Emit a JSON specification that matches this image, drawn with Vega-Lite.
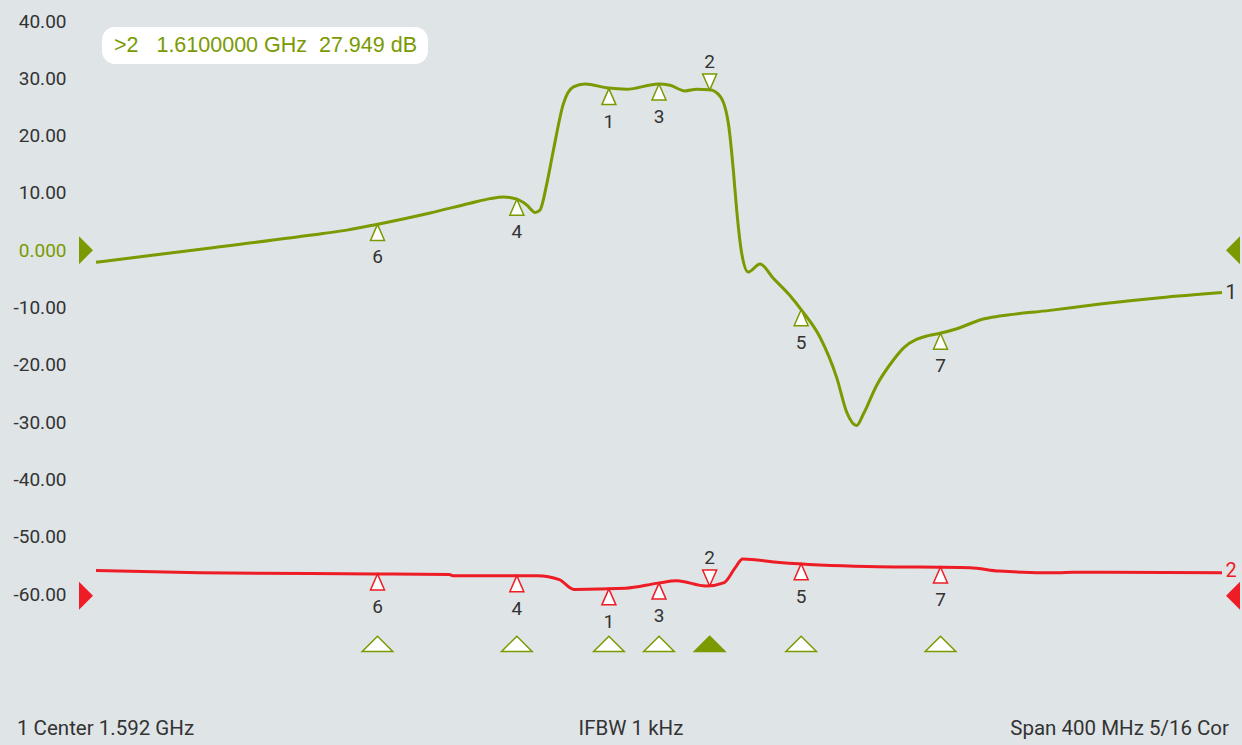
{
  "$schema": "https://vega.github.io/schema/vega-lite/v6.json",
  "width": 1126,
  "height": 573,
  "autosize": {"type": "none"},
  "padding": {"left": 96, "top": 21, "right": 20, "bottom": 151},
  "background": "#dfe4e7",
  "config": {
    "view": {"stroke": null},
    "font": "Roboto",
    "axis": {"gridColor": "#ffffff", "gridWidth": 1.6, "gridOpacity": 1, "domain": false, "ticks": false}
  },
  "datasets": {
    "t1": [
      {"f": 1.3920, "v": -2.1}, {"f": 1.4313, "v": 0.3}, {"f": 1.4726, "v": 2.9}, {"f": 1.4811, "v": 3.5},
      {"f": 1.4917, "v": 4.5}, {"f": 1.5107, "v": 6.5}, {"f": 1.5249, "v": 8.2}, {"f": 1.5320, "v": 9.0},
      {"f": 1.5367, "v": 9.3}, {"f": 1.5415, "v": 8.9}, {"f": 1.5450, "v": 7.9}, {"f": 1.5480, "v": 6.6},
      {"f": 1.5497, "v": 7.0}, {"f": 1.5521, "v": 11.5}, {"f": 1.5545, "v": 17.5}, {"f": 1.5580, "v": 25.5},
      {"f": 1.5616, "v": 28.5}, {"f": 1.5657, "v": 29.0}, {"f": 1.5740, "v": 28.3}, {"f": 1.5805, "v": 28.1},
      {"f": 1.5918, "v": 29.0}, {"f": 1.5959, "v": 28.8}, {"f": 1.6012, "v": 27.8}, {"f": 1.6054, "v": 28.1},
      {"f": 1.6101, "v": 28.0}, {"f": 1.6138, "v": 26.8}, {"f": 1.6168, "v": 21.6}, {"f": 1.6184, "v": 14.0},
      {"f": 1.6196, "v": 7.0}, {"f": 1.6214, "v": -0.6}, {"f": 1.6237, "v": -3.8}, {"f": 1.6279, "v": -2.4},
      {"f": 1.6326, "v": -4.9}, {"f": 1.6385, "v": -7.9}, {"f": 1.6427, "v": -10.5}, {"f": 1.6492, "v": -15.2},
      {"f": 1.6551, "v": -22.2}, {"f": 1.6587, "v": -28.3}, {"f": 1.6622, "v": -30.6}, {"f": 1.6646, "v": -28.6},
      {"f": 1.6693, "v": -23.6}, {"f": 1.6752, "v": -19.2}, {"f": 1.6790, "v": -17.0}, {"f": 1.6877, "v": -14.9},
      {"f": 1.6918, "v": -14.5}, {"f": 1.6978, "v": -13.7}, {"f": 1.7072, "v": -12.0}, {"f": 1.7131, "v": -11.5},
      {"f": 1.7309, "v": -10.5}, {"f": 1.7487, "v": -9.4}, {"f": 1.7700, "v": -8.3}, {"f": 1.7920, "v": -7.4}
    ],
    "t2": [
      {"f": 1.3920, "v": -55.9}, {"f": 1.4289, "v": -56.3}, {"f": 1.4912, "v": -56.5}, {"f": 1.5175, "v": -56.6},
      {"f": 1.5188, "v": -56.8}, {"f": 1.5488, "v": -56.8}, {"f": 1.5566, "v": -57.5}, {"f": 1.5618, "v": -59.2},
      {"f": 1.5801, "v": -59.0}, {"f": 1.5918, "v": -58.1}, {"f": 1.5983, "v": -57.7}, {"f": 1.6087, "v": -58.6},
      {"f": 1.6152, "v": -58.0}, {"f": 1.6191, "v": -55.4}, {"f": 1.6217, "v": -53.9}, {"f": 1.6348, "v": -54.5},
      {"f": 1.6660, "v": -55.2}, {"f": 1.7025, "v": -55.4}, {"f": 1.7129, "v": -56.0}, {"f": 1.7337, "v": -56.3},
      {"f": 1.7390, "v": -56.2}, {"f": 1.7920, "v": -56.3}
    ],
    "markers": [
      {"trace": 1, "marker": 1, "f": 1.5742, "v": 28.2},
      {"trace": 1, "marker": 2, "f": 1.6100, "v": 27.949},
      {"trace": 1, "marker": 3, "f": 1.5920, "v": 29.0},
      {"trace": 1, "marker": 4, "f": 1.5415, "v": 8.9},
      {"trace": 1, "marker": 5, "f": 1.6425, "v": -10.4},
      {"trace": 1, "marker": 6, "f": 1.4920, "v": 4.5},
      {"trace": 1, "marker": 7, "f": 1.6920, "v": -14.5},
      {"trace": 2, "marker": 1, "f": 1.5742, "v": -59.1},
      {"trace": 2, "marker": 2, "f": 1.6100, "v": -58.6},
      {"trace": 2, "marker": 3, "f": 1.5920, "v": -58.1},
      {"trace": 2, "marker": 4, "f": 1.5415, "v": -56.8},
      {"trace": 2, "marker": 5, "f": 1.6425, "v": -54.7},
      {"trace": 2, "marker": 6, "f": 1.4920, "v": -56.5},
      {"trace": 2, "marker": 7, "f": 1.6920, "v": -55.3}
    ],
    "refs": [
      {"trace": 1, "side": "left", "f": 1.38845, "v": 0},
      {"trace": 1, "side": "right", "f": 1.79591, "v": 0},
      {"trace": 2, "side": "left", "f": 1.38845, "v": -60.3},
      {"trace": 2, "side": "right", "f": 1.79591, "v": -60.3}
    ],
    "ends": [
      {"trace": 1, "label": "1", "f": 1.7932, "v": -7.4},
      {"trace": 2, "label": "2", "f": 1.7932, "v": -55.9}
    ],
    "footer": [
      {"label": "1 Center 1.592 GHz", "pos": "left", "f": 1.36394},
      {"label": "IFBW 1 kHz", "pos": "center", "f": 1.58205},
      {"label": "Span 400 MHz 5/16 Cor", "pos": "right", "f": 1.79449}
    ]
  },
  "layer": [
    {
      "data": {"values": [{}]},
      "mark": {"type": "rect", "fill": "#ffffff", "cornerRadius": 13},
      "encoding": {
        "x": {"datum": 1.39413, "type": "quantitative", "scale": {"domain": [1.392, 1.792], "nice": false, "zero": false},
          "axis": {"values": [1.392, 1.432, 1.472, 1.512, 1.552, 1.592, 1.632, 1.672, 1.712, 1.752, 1.792], "labels": false, "title": null}},
        "x2": {"datum": 1.50994},
        "y": {"datum": 38.95, "type": "quantitative", "scale": {"domain": [-60, 40], "nice": false, "zero": false},
          "axis": {"values": [-60, -50, -40, -30, -20, -10, 0, 10, 20, 30, 40], "title": null, "labelFont": "Roboto", "labelFontSize": 19,
            "labelPadding": 30, "labelFlush": false,
            "labelExpr": "datum.value == 0 ? '0.000' : replace(format(datum.value, '.2f'), '\u2212', '-')",
            "labelColor": {"condition": {"test": "datum.value == 0", "value": "#7a9a01"}, "value": "#333333"}}},
        "y2": {"datum": 32.5}
      }
    },
    {
      "data": {"values": [{"text": ">2\u00a0\u00a0\u00a01.6100000 GHz\u00a0\u00a027.949 dB"}]},
      "mark": {"type": "text", "font": "Liberation Sans", "fontSize": 21.5, "align": "left", "baseline": "middle", "color": "#7a9a01"},
      "encoding": {
        "x": {"datum": 1.39839, "type": "quantitative"},
        "y": {"datum": 35.7, "type": "quantitative"},
        "text": {"field": "text"}
      }
    },
    {
      "data": {"name": "t1"},
      "mark": {"type": "line", "color": "#7a9a01", "strokeWidth": 3, "interpolate": "monotone"},
      "encoding": {"x": {"field": "f", "type": "quantitative"}, "y": {"field": "v", "type": "quantitative"}}
    },
    {
      "data": {"name": "t2"},
      "mark": {"type": "line", "color": "#ee1c25", "strokeWidth": 3, "interpolate": "monotone"},
      "encoding": {"x": {"field": "f", "type": "quantitative"}, "y": {"field": "v", "type": "quantitative"}}
    },
    {
      "data": {"name": "markers"},
      "mark": {"type": "point", "filled": false, "fill": "#ffffff", "fillOpacity": 1, "strokeWidth": 1.5, "opacity": 1, "size": 256},
      "encoding": {
        "x": {"field": "f", "type": "quantitative"},
        "y": {"field": "v", "type": "quantitative"},
        "shape": {"condition": {"test": "datum.marker == 2", "value": "M0,0L-0.875,-2L0.875,-2Z"}, "value": "M0,0L-0.875,2L0.875,2Z"},
        "stroke": {"field": "trace", "type": "nominal", "scale": {"domain": [1, 2], "range": ["#7a9a01", "#ee1c25"]}, "legend": null}
      }
    },
    {
      "data": {"name": "markers"},
      "transform": [{"filter": "datum.marker != 2"}],
      "mark": {"type": "text", "fontSize": 19, "color": "#333333", "baseline": "middle", "dy": 33},
      "encoding": {
        "x": {"field": "f", "type": "quantitative"},
        "y": {"field": "v", "type": "quantitative"},
        "text": {"field": "marker"}
      }
    },
    {
      "data": {"name": "markers"},
      "transform": [{"filter": "datum.marker == 2"}],
      "mark": {"type": "text", "fontSize": 19, "color": "#333333", "baseline": "middle", "dy": -28},
      "encoding": {
        "x": {"field": "f", "type": "quantitative"},
        "y": {"field": "v", "type": "quantitative"},
        "text": {"field": "marker"}
      }
    },
    {
      "data": {"name": "markers"},
      "transform": [{"filter": "datum.trace == 1"}],
      "mark": {"type": "point", "shape": "M0,-0.5L-1,0.5L1,0.5Z", "size": 936, "stroke": "#7a9a01", "strokeWidth": 1.5, "opacity": 1, "fillOpacity": 1},
      "encoding": {
        "x": {"field": "f", "type": "quantitative"},
        "y": {"datum": -68.7, "type": "quantitative"},
        "fill": {"condition": {"test": "datum.marker == 2", "value": "#7a9a01"}, "value": "#ffffff"}
      }
    },
    {
      "data": {"name": "refs"},
      "mark": {"type": "point", "filled": true, "size": 196, "opacity": 1},
      "encoding": {
        "x": {"field": "f", "type": "quantitative"},
        "y": {"field": "v", "type": "quantitative"},
        "shape": {"condition": {"test": "datum.side == 'left'", "value": "M1,0L-1,-2L-1,2Z"}, "value": "M-1,0L1,-2L1,2Z"},
        "fill": {"field": "trace", "type": "nominal", "scale": {"domain": [1, 2], "range": ["#7a9a01", "#ee1c25"]}, "legend": null}
      }
    },
    {
      "data": {"name": "ends"},
      "mark": {"type": "text", "fontSize": 20, "align": "left", "baseline": "middle"},
      "encoding": {
        "x": {"field": "f", "type": "quantitative"},
        "y": {"field": "v", "type": "quantitative"},
        "text": {"field": "label"},
        "color": {"field": "trace", "type": "nominal", "scale": {"domain": [1, 2], "range": ["#333333", "#ee1c25"]}, "legend": null}
      }
    },
    {
      "data": {"name": "footer"},
      "transform": [{"filter": "datum.pos == 'left'"}],
      "mark": {"type": "text", "fontSize": 20.5, "align": "left", "baseline": "middle", "color": "#333333"},
      "encoding": {
        "x": {"field": "f", "type": "quantitative"},
        "y": {"datum": -83.6, "type": "quantitative"},
        "text": {"field": "label"}
      }
    },
    {
      "data": {"name": "footer"},
      "transform": [{"filter": "datum.pos == 'center'"}],
      "mark": {"type": "text", "fontSize": 20.5, "align": "center", "baseline": "middle", "color": "#333333"},
      "encoding": {
        "x": {"field": "f", "type": "quantitative"},
        "y": {"datum": -83.6, "type": "quantitative"},
        "text": {"field": "label"}
      }
    },
    {
      "data": {"name": "footer"},
      "transform": [{"filter": "datum.pos == 'right'"}],
      "mark": {"type": "text", "fontSize": 20.5, "align": "right", "baseline": "middle", "color": "#333333"},
      "encoding": {
        "x": {"field": "f", "type": "quantitative"},
        "y": {"datum": -83.6, "type": "quantitative"},
        "text": {"field": "label"}
      }
    }
  ],
  "resolve": {"scale": {"stroke": "independent", "fill": "independent", "color": "independent"}}
}
